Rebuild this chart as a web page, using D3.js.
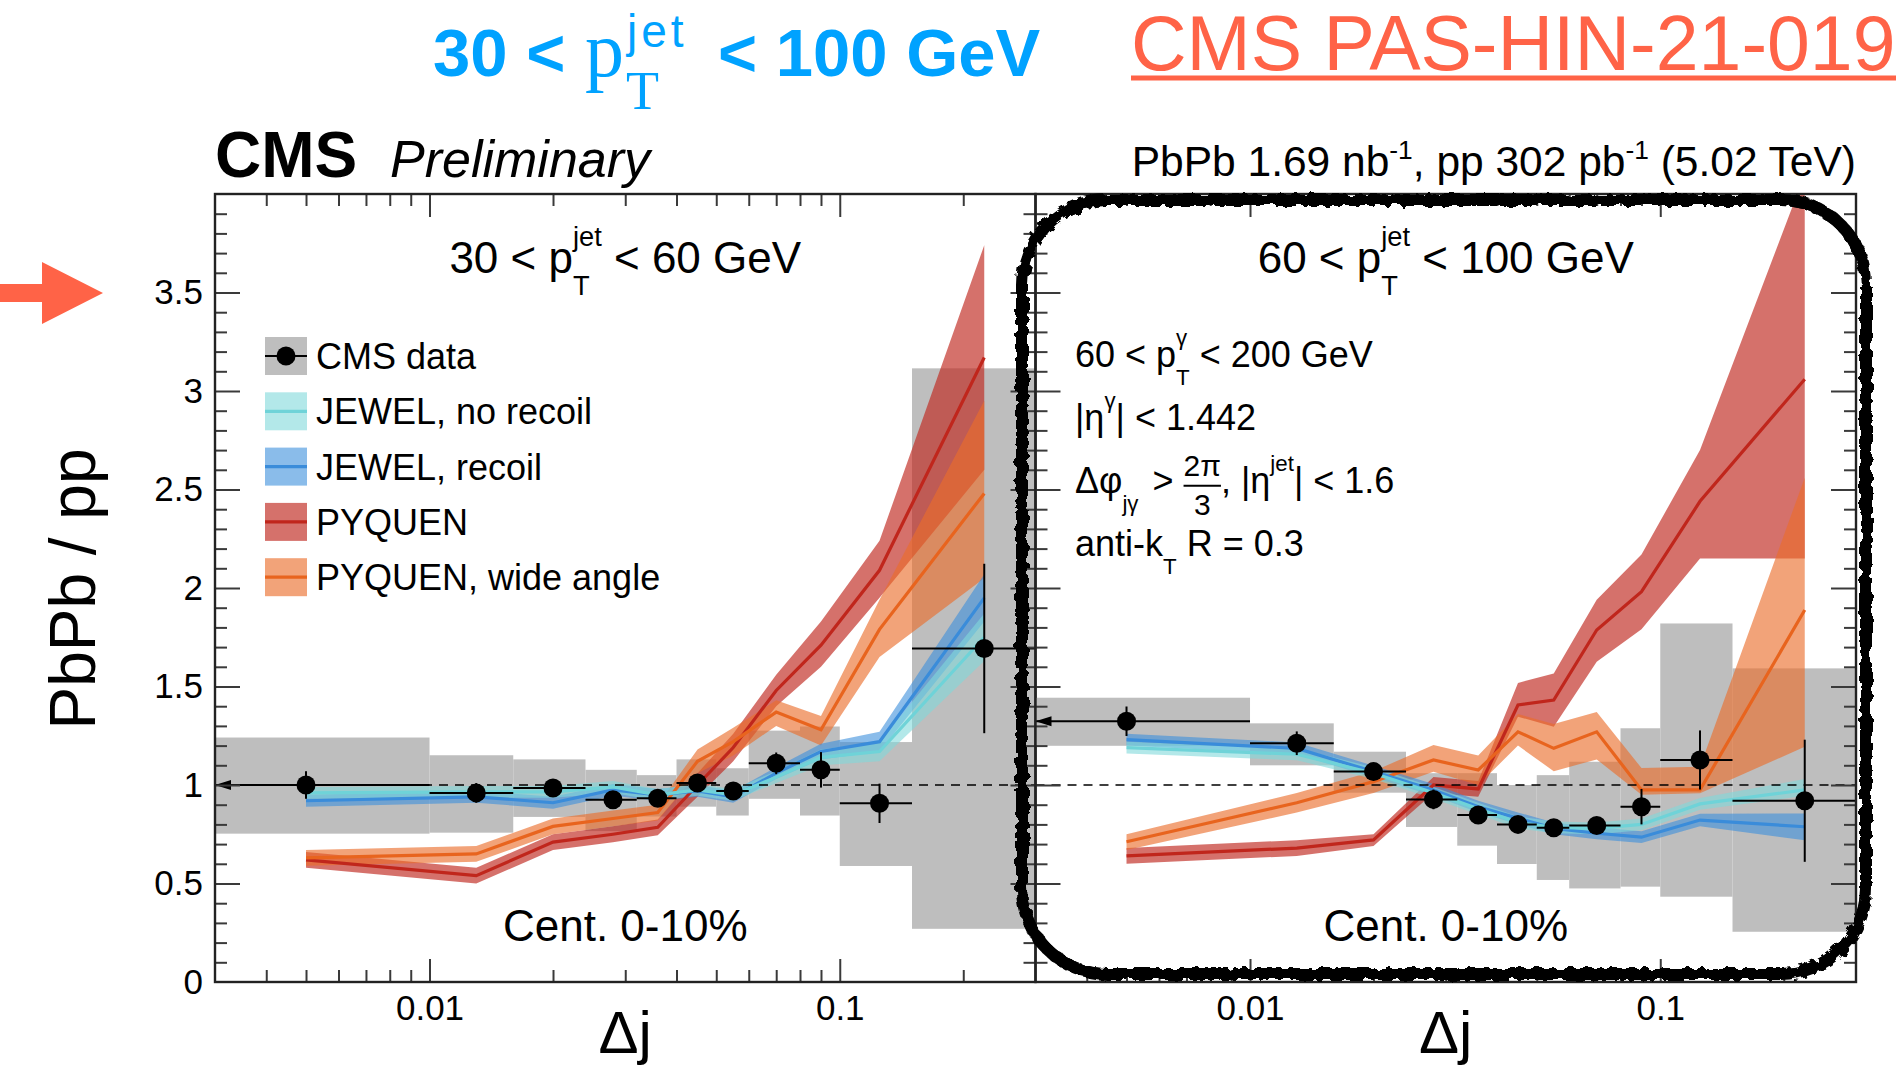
<!DOCTYPE html>
<html><head><meta charset="utf-8">
<script src="https://cdn.jsdelivr.net/npm/d3@7"></script>
<style>
body{margin:0;background:#fff;}
svg{display:block;}
text{white-space:pre;}
</style>
</head><body>
<svg id="chart" width="1896" height="1080"></svg>
<script>
// ---------------- DATA ----------------
const binEdges   = [0, 0.01, 0.016, 0.024, 0.032, 0.04, 0.05, 0.06, 0.08, 0.1, 0.15, 0.3];
const binCenters = [0.005, 0.013, 0.02, 0.028, 0.036, 0.045, 0.055, 0.07, 0.09, 0.125, 0.225];
const xTickLabels = ["0.01", "0.1"];
const yTickLabels = ["0", "0.5", "1", "1.5", "2", "2.5", "3", "3.5"];
const legendLabels = ["CMS data", "JEWEL, no recoil", "JEWEL, recoil", "PYQUEN", "PYQUEN, wide angle"];

// Panel 1: 30 < pT jet < 60 GeV
const dataL   = [1.00, 0.96, 0.985, 0.925, 0.933, 1.01, 0.97, 1.11, 1.077, 0.907, 1.693];
const statL   = [0.07, 0.05, 0.03, 0.03, 0.03, 0.03, 0.03, 0.055, 0.09, 0.10, 0.43];
const sysLoL  = [0.753, 0.758, 0.838, 0.766, 0.84, 0.89, 0.845, 0.93, 0.845, 0.589, 0.27];
const sysHiL  = [1.241, 1.151, 1.13, 1.077, 1.05, 1.13, 1.085, 1.276, 1.297, 1.218, 3.115];
const jewelNoRecoilL   = [0.96, 0.965, 0.965, 0.99, 0.95, 0.975, 0.95, 1.04, 1.14, 1.17, 1.75];
const jewelNoRecoilLLo = [0.93, 0.935, 0.935, 0.96, 0.92, 0.945, 0.92, 1.01, 1.10, 1.12, 1.63];
const jewelNoRecoilLHi = [0.99, 0.995, 0.995, 1.02, 0.98, 1.005, 0.98, 1.07, 1.18, 1.22, 1.87];
const jewelRecoilL     = [0.92, 0.94, 0.91, 0.975, 0.95, 0.97, 0.94, 1.06, 1.17, 1.22, 1.95];
const jewelRecoilLLo   = [0.89, 0.91, 0.88, 0.945, 0.92, 0.94, 0.91, 1.03, 1.13, 1.17, 1.83];
const jewelRecoilLHi   = [0.95, 0.97, 0.94, 1.005, 0.98, 1.00, 0.97, 1.09, 1.21, 1.27, 2.07];
const pyquenL      = [0.62, 0.54, 0.71, 0.75, 0.785, 1.00, 1.19, 1.48, 1.71, 2.09, 3.17];
const pyquenLLo    = [0.58, 0.50, 0.67, 0.71, 0.745, 0.94, 1.12, 1.40, 1.60, 1.95, 2.60];
const pyquenLHi    = [0.66, 0.58, 0.75, 0.79, 0.825, 1.06, 1.26, 1.56, 1.83, 2.24, 3.74];
const pyquenWideL   = [0.63, 0.65, 0.79, 0.83, 0.86, 1.12, 1.22, 1.37, 1.28, 1.79, 2.48];
const pyquenWideLLo = [0.59, 0.61, 0.75, 0.79, 0.82, 1.06, 1.15, 1.30, 1.20, 1.65, 2.05];
const pyquenWideLHi = [0.67, 0.69, 0.83, 0.87, 0.90, 1.18, 1.29, 1.43, 1.35, 1.94, 2.95];

// Panel 2: 60 < pT jet < 100 GeV
const dataR   = [1.324, 1.212, 1.068, 0.927, 0.848, 0.80, 0.783, 0.794, 0.890, 1.127, 0.920];
const statR   = [0.075, 0.06, 0.04, 0.05, 0.03, 0.03, 0.03, 0.04, 0.09, 0.15, 0.31];
const sysLoR  = [1.199, 1.10, 0.961, 0.787, 0.692, 0.599, 0.518, 0.475, 0.484, 0.433, 0.255];
const sysHiR  = [1.443, 1.313, 1.169, 1.06, 1.06, 1.0, 1.05, 1.118, 1.288, 1.82, 1.592];
const jewelNoRecoilR   = [1.19, 1.156, 1.06, 0.96, 0.88, 0.81, 0.785, 0.78, 0.80, 0.904, 0.975];
const jewelNoRecoilRLo = [1.16, 1.126, 1.03, 0.93, 0.85, 0.78, 0.755, 0.75, 0.77, 0.874, 0.945];
const jewelNoRecoilRHi = [1.22, 1.186, 1.09, 0.99, 0.91, 0.84, 0.815, 0.81, 0.83, 0.934, 1.03];
const jewelRecoilR     = [1.23, 1.186, 1.068, 0.975, 0.89, 0.831, 0.78, 0.755, 0.735, 0.822, 0.788];
const jewelRecoilRLo   = [1.20, 1.156, 1.038, 0.945, 0.86, 0.801, 0.75, 0.725, 0.705, 0.79, 0.72];
const jewelRecoilRHi   = [1.26, 1.216, 1.098, 1.005, 0.92, 0.861, 0.81, 0.785, 0.765, 0.854, 0.855];
const pyquenR      = [0.64, 0.68, 0.721, 1.00, 0.98, 1.406, 1.431, 1.787, 1.981, 2.44, 3.06];
const pyquenRLo    = [0.60, 0.64, 0.69, 0.96, 0.94, 1.347, 1.296, 1.626, 1.79, 2.15, 2.15];
const pyquenRHi    = [0.68, 0.72, 0.75, 1.04, 1.02, 1.518, 1.566, 1.94, 2.17, 2.70, 4.10];
const pyquenWideR   = [0.712, 0.91, 1.017, 1.127, 1.076, 1.27, 1.186, 1.27, 0.975, 0.975, 1.888];
const pyquenWideRLo = [0.67, 0.86, 0.96, 1.067, 1.00, 1.20, 1.07, 1.13, 0.95, 0.958, 1.194];
const pyquenWideRHi = [0.75, 0.96, 1.07, 1.203, 1.15, 1.36, 1.31, 1.37, 1.086, 1.093, 2.56];

// ---------------- STYLE / LAYOUT ----------------
const SANS = "'Liberation Sans', Arial, Helvetica, sans-serif";
const SERIF = "'Liberation Serif', 'Times New Roman', serif";
const colors = {
  gray: "#BEBEBE",
  jewelNo:  {line: "#6FD3D8", band: "#80D8DA", op: 0.6},
  jewelRec: {line: "#3A8CDA", band: "#3C8FDC", op: 0.6},
  pyq:      {line: "#C0261C", band: "#C0281E", op: 0.66},
  pyqWide:  {line: "#E8641E", band: "#EA6E2A", op: 0.63}
};
const annot = "#FF6347";
const titleBlue = "#00A2FF";

const T = 194, B = 982, L1 = 215, M = 1035.5, R = 1856;
const svg = d3.select("#chart");
const defs = svg.append("defs");

const y = d3.scaleLinear().domain([0, 4]).range([B, T]);
const xDomain = [0.003, 0.3];

function modelSeries(c, lo, hi) { return binCenters.map((x, i) => ({x, v: c[i], lo: lo[i], hi: hi[i]})); }

const panels = [
  {
    x: d3.scaleLog().domain(xDomain).range([L1, M]),
    data: dataL, stat: statL, sysLo: sysLoL, sysHi: sysHiL,
    models: [
      {key: "pyq", s: modelSeries(pyquenL, pyquenLLo, pyquenLHi)},
      {key: "pyqWide", s: modelSeries(pyquenWideL, pyquenWideLLo, pyquenWideLHi)},
      {key: "jewelRec", s: modelSeries(jewelRecoilL, jewelRecoilLLo, jewelRecoilLHi)},
      {key: "jewelNo", s: modelSeries(jewelNoRecoilL, jewelNoRecoilLLo, jewelNoRecoilLHi)}
    ],
    title: [{t: "30 < p"}, {sup: "jet", sub: "T"}, {t: " < 60 GeV"}]
  },
  {
    x: d3.scaleLog().domain(xDomain).range([M, R]),
    data: dataR, stat: statR, sysLo: sysLoR, sysHi: sysHiR,
    models: [
      {key: "pyq", s: modelSeries(pyquenR, pyquenRLo, pyquenRHi)},
      {key: "pyqWide", s: modelSeries(pyquenWideR, pyquenWideRLo, pyquenWideRHi)},
      {key: "jewelRec", s: modelSeries(jewelRecoilR, jewelRecoilRLo, jewelRecoilRHi)},
      {key: "jewelNo", s: modelSeries(jewelNoRecoilR, jewelNoRecoilRLo, jewelNoRecoilRHi)}
    ],
    title: [{t: "60 < p"}, {sup: "jet", sub: "T"}, {t: " < 100 GeV"}]
  }
];

// rich text helper (ROOT-like stacked sub/superscripts)
function rich(parent, x, yb, parts, o) {
  const g = parent.append("g");
  const fs = o.size;
  let cx = 0;
  const mk = (txt, xx, yy, size, extra) => {
    const t = g.append("text").attr("x", xx).attr("y", yy)
      .attr("font-size", size).attr("font-family", (extra && extra.family) || o.family || SANS)
      .attr("font-weight", (extra && extra.weight) || o.weight || "normal")
      .attr("font-style", (extra && extra.style) || "normal")
      .attr("fill", o.fill || "#000").text(txt);
    return t;
  };
  for (const p of parts) {
    if (p.t !== undefined) {
      const t = mk(p.t, cx, p.dy || 0, p.size || fs, p);
      cx += t.node().getComputedTextLength() + (p.dx || 0);
    } else if (p.frac) {
      const s = p.size || fs * 0.75;
      const a = mk(p.frac[0], cx, -fs * 0.47, s, p);
      const b = mk(p.frac[1], cx, fs * 0.6, s, p);
      const wa = a.node().getComputedTextLength(), wb = b.node().getComputedTextLength();
      const w = Math.max(wa, wb);
      a.attr("x", cx + (w - wa) / 2); b.attr("x", cx + (w - wb) / 2);
      g.append("line").attr("x1", cx).attr("x2", cx + w).attr("y1", -fs * 0.2).attr("y2", -fs * 0.2)
        .attr("stroke", "#000").attr("stroke-width", 2);
      cx += w + (p.dx || 0);
    } else {
      const s = p.size || fs * 0.62;
      let w = 0;
      if (p.sup) { const t = mk(p.sup, cx, p.supY !== undefined ? p.supY : -fs * 0.62, s, p); w = Math.max(w, t.node().getComputedTextLength()); }
      if (p.sub) { const t = mk(p.sub, cx, p.subY !== undefined ? p.subY : fs * 0.5, s, p); w = Math.max(w, t.node().getComputedTextLength()); }
      cx += w + (p.dx || 0);
    }
  }
  const off = o.anchor === "middle" ? -cx / 2 : o.anchor === "end" ? -cx : 0;
  g.attr("transform", `translate(${x + off},${yb})`);
  return g;
}

// ---------------- PANELS ----------------
panels.forEach((P, pi) => {
  const x = P.x;
  const [x0, x1] = x.range();
  const clipId = "clip" + pi;
  defs.append("clipPath").attr("id", clipId).append("rect")
    .attr("x", x0).attr("y", T).attr("width", x1 - x0).attr("height", B - T);
  const g = svg.append("g").attr("clip-path", `url(#${clipId})`);
  const xc = v => x(Math.max(v, xDomain[0]));

  // systematic boxes
  g.selectAll("rect.sys").data(binCenters).join("rect").attr("class", "sys")
    .attr("x", (d, i) => xc(binEdges[i]))
    .attr("width", (d, i) => xc(binEdges[i + 1]) - xc(binEdges[i]))
    .attr("y", (d, i) => y(P.sysHi[i]))
    .attr("height", (d, i) => y(P.sysLo[i]) - y(P.sysHi[i]))
    .attr("fill", colors.gray);

  // model bands + lines
  const area = d3.area().x(d => x(d.x)).y0(d => y(d.lo)).y1(d => y(d.hi));
  const line = d3.line().x(d => x(d.x)).y(d => y(d.v));
  P.models.forEach(m => {
    const c = colors[m.key];
    g.append("path").attr("d", area(m.s)).attr("fill", c.band).attr("fill-opacity", c.op);
  });
  P.models.forEach(m => {
    const c = colors[m.key];
    g.append("path").attr("d", line(m.s)).attr("fill", "none").attr("stroke", c.line).attr("stroke-width", 3.2);
  });

  // dashed unity line
  g.append("line").attr("x1", x0).attr("x2", x1).attr("y1", y(1)).attr("y2", y(1))
    .attr("stroke", "#000").attr("stroke-width", 1.6).attr("stroke-dasharray", "9,7");

  // error bars
  binCenters.forEach((c, i) => {
    const yv = y(P.data[i]);
    g.append("line").attr("x1", xc(binEdges[i])).attr("x2", xc(binEdges[i + 1]))
      .attr("y1", yv).attr("y2", yv).attr("stroke", "#000").attr("stroke-width", 2);
    g.append("line").attr("x1", x(c)).attr("x2", x(c))
      .attr("y1", y(P.data[i] - P.stat[i])).attr("y2", y(P.data[i] + P.stat[i]))
      .attr("stroke", "#000").attr("stroke-width", 2);
    if (binEdges[i] <= 0) {
      const ax = xc(binEdges[i]);
      g.append("path").attr("d", `M${ax},${yv} L${ax + 16},${yv - 5} L${ax + 16},${yv + 5} Z`).attr("fill", "#000");
    }
  });
  g.selectAll("circle.pt").data(binCenters).join("circle").attr("class", "pt")
    .attr("cx", d => x(d)).attr("cy", (d, i) => y(P.data[i])).attr("r", 9.5).attr("fill", "#000");

  // axes / ticks (inward)
  const ax = svg.append("g");
  const majorX = x.ticks().filter(v => Math.abs(Math.log10(v) - Math.round(Math.log10(v))) < 1e-9);
  const minorX = x.ticks().filter(v => !majorX.includes(v) && v > xDomain[0] * 1.0001 && v < xDomain[1] * 0.9999);
  const styleAxis = s => { s.select(".domain").remove(); s.selectAll(".tick line").attr("stroke", "#3a3a3a").attr("stroke-width", 2); };
  ax.append("g").attr("transform", `translate(0,${B})`).call(d3.axisBottom(x).tickValues(minorX).tickSize(-12).tickFormat("")).call(styleAxis);
  ax.append("g").attr("transform", `translate(0,${B})`).call(d3.axisBottom(x).tickValues(majorX).tickSize(-23).tickFormat("")).call(styleAxis);
  ax.append("g").attr("transform", `translate(0,${T})`).call(d3.axisTop(x).tickValues(minorX).tickSize(-12).tickFormat("")).call(styleAxis);
  ax.append("g").attr("transform", `translate(0,${T})`).call(d3.axisTop(x).tickValues(majorX).tickSize(-23).tickFormat("")).call(styleAxis);
  // x tick labels
  ax.append("g").attr("transform", `translate(0,${B})`)
    .call(d3.axisBottom(x).tickValues(majorX).tickSize(0).tickPadding(13).tickFormat((d, i) => xTickLabels[i]))
    .call(s => { s.select(".domain").remove(); s.selectAll("text").attr("font-size", 35).attr("font-family", SANS).attr("fill", "#000"); });

  const yAll = y.ticks(40).filter(v => v > 0.001 && v < 3.999);
  const yMajor = yAll.filter(v => Math.abs(v * 2 - Math.round(v * 2)) < 1e-6);
  const yMinor = yAll.filter(v => !yMajor.includes(v));
  ax.append("g").attr("transform", `translate(${x0},0)`).call(d3.axisLeft(y).tickValues(yMinor).tickSize(-12).tickFormat("")).call(styleAxis);
  ax.append("g").attr("transform", `translate(${x0},0)`).call(d3.axisLeft(y).tickValues(yMajor).tickSize(-25).tickFormat("")).call(styleAxis);
  ax.append("g").attr("transform", `translate(${x1},0)`).call(d3.axisRight(y).tickValues(yMinor).tickSize(-12).tickFormat("")).call(styleAxis);
  ax.append("g").attr("transform", `translate(${x1},0)`).call(d3.axisRight(y).tickValues(yMajor).tickSize(-25).tickFormat("")).call(styleAxis);

  // frame
  svg.append("rect").attr("x", x0).attr("y", T).attr("width", x1 - x0).attr("height", B - T)
    .attr("fill", "none").attr("stroke", "#222").attr("stroke-width", 2.4);

  // panel title, centrality, x label
  const cxm = (x0 + x1) / 2;
  rich(svg, cxm, 273, P.title, {size: 44, anchor: "middle"});
  svg.append("text").attr("x", cxm).attr("y", 941).attr("text-anchor", "middle")
    .attr("font-size", 44).attr("font-family", SANS).text("Cent. 0-10%");
  svg.append("text").attr("x", cxm).attr("y", 1053).attr("text-anchor", "middle")
    .attr("font-size", 60).attr("font-family", SANS).text("Δj");
});

// y tick labels
svg.append("g").attr("transform", `translate(${L1},0)`)
  .call(d3.axisLeft(y).tickValues(y.ticks(8).filter(v => v < 3.99)).tickSize(0).tickPadding(12).tickFormat((d, i) => yTickLabels[i]))
  .call(s => { s.select(".domain").remove(); s.selectAll("text").attr("font-size", 35).attr("font-family", SANS).attr("fill", "#000"); });

// y axis title
svg.append("text").attr("transform", "translate(95,589) rotate(-90)").attr("text-anchor", "middle")
  .attr("font-size", 64).attr("font-family", SANS).text("PbPb / pp");

// ---------------- LEGEND ----------------
const leg = svg.append("g");
const legKeys = [null, "jewelNo", "jewelRec", "pyq", "pyqWide"];
const legY0 = 356, legDy = 55.3, lbx = 265, lbw = 42, lbh = 38;
legendLabels.forEach((lab, i) => {
  const cy = legY0 + i * legDy;
  if (i === 0) {
    leg.append("rect").attr("x", lbx).attr("y", cy - lbh / 2).attr("width", lbw).attr("height", lbh).attr("fill", colors.gray);
    leg.append("line").attr("x1", lbx).attr("x2", lbx + lbw).attr("y1", cy).attr("y2", cy).attr("stroke", "#000").attr("stroke-width", 2);
    leg.append("circle").attr("cx", lbx + lbw / 2).attr("cy", cy).attr("r", 9.5).attr("fill", "#000");
  } else {
    const c = colors[legKeys[i]];
    leg.append("rect").attr("x", lbx).attr("y", cy - lbh / 2).attr("width", lbw).attr("height", lbh).attr("fill", c.band).attr("fill-opacity", c.op);
    leg.append("line").attr("x1", lbx).attr("x2", lbx + lbw).attr("y1", cy).attr("y2", cy).attr("stroke", c.line).attr("stroke-width", 3.2);
  }
  leg.append("text").attr("x", 316).attr("y", cy + 13).attr("font-size", 36).attr("font-family", SANS).text(lab);
});

// ---------------- RIGHT PANEL ANNOTATIONS ----------------
const ax0 = 1075;
rich(svg, ax0, 367, [{t: "60 < p"}, {sup: "γ", sub: "T"}, {t: " < 200 GeV"}], {size: 36});
rich(svg, ax0, 430, [{t: "|η"}, {sup: "γ"}, {t: "| < 1.442"}], {size: 36});
rich(svg, ax0, 493, [{t: "Δφ"}, {sub: "jγ", dx: 4}, {t: " > "}, {frac: ["2π", "3"], size: 30}, {t: ", |η"}, {sup: "jet"}, {t: "| < 1.6"}], {size: 36});
rich(svg, ax0, 556, [{t: "anti-k"}, {sub: "T"}, {t: " R = 0.3"}], {size: 36});

// ---------------- HEADER ----------------
svg.append("text").attr("x", 215).attr("y", 177).attr("font-size", 64).attr("font-weight", "bold").attr("font-family", SANS).text("CMS");
svg.append("text").attr("x", 390).attr("y", 177).attr("font-size", 52).attr("font-style", "italic").attr("font-family", SANS).text("Preliminary");
rich(svg, R, 176, [{t: "PbPb 1.69 nb"}, {sup: "-1", supY: -17}, {t: ", pp 302 pb"}, {sup: "-1", supY: -17}, {t: " (5.02 TeV)"}], {size: 42.5, anchor: "end"});

// blue title (absolute placement of its pieces)
const bt = svg.append("g").attr("fill", titleBlue);
bt.append("text").attr("x", 433).attr("y", 76).attr("font-size", 67).attr("font-weight", "bold").attr("font-family", SANS).text("30 <");
bt.append("text").attr("x", 585).attr("y", 76).attr("font-size", 78).attr("font-family", SERIF).text("p");
bt.append("text").attr("x", 627).attr("y", 47).attr("font-size", 46).attr("letter-spacing", 4).attr("font-family", SANS).text("jet");
bt.append("text").attr("x", 626).attr("y", 109).attr("font-size", 54).attr("font-family", SERIF).text("T");
bt.append("text").attr("x", 718).attr("y", 76).attr("font-size", 67).attr("font-weight", "bold").attr("font-family", SANS).text("< 100 GeV");

// red reference + underline
svg.append("text").attr("x", 1131).attr("y", 70).attr("font-size", 77).attr("font-family", SANS).attr("fill", annot).text("CMS PAS-HIN-21-019");
svg.append("line").attr("x1", 1131).attr("x2", 1896).attr("y1", 78).attr("y2", 78).attr("stroke", annot).attr("stroke-width", 5);

// red arrow
svg.append("path").attr("d", "M0,284 L42,284 L42,262 L103,293 L42,324 L42,302 L0,302 Z").attr("fill", annot);

// hand-drawn box around right panel
const f = defs.append("filter").attr("id", "rough").attr("x", "-5%").attr("y", "-5%").attr("width", "110%").attr("height", "110%");
f.append("feTurbulence").attr("type", "fractalNoise").attr("baseFrequency", 0.12).attr("numOctaves", 2).attr("seed", 4).attr("result", "n");
f.append("feDisplacementMap").attr("in", "SourceGraphic").attr("in2", "n").attr("scale", 9);
svg.append("rect").attr("x", 1022).attr("y", 200).attr("width", 844).attr("height", 774).attr("rx", 85)
  .attr("fill", "none").attr("stroke", "#000").attr("stroke-width", 12).attr("filter", "url(#rough)");
svg.append("rect").attr("x", 1025).attr("y", 203).attr("width", 838).attr("height", 768).attr("rx", 82)
  .attr("fill", "none").attr("stroke", "#000").attr("stroke-width", 6).attr("filter", "url(#rough)");
</script>
</body></html>
